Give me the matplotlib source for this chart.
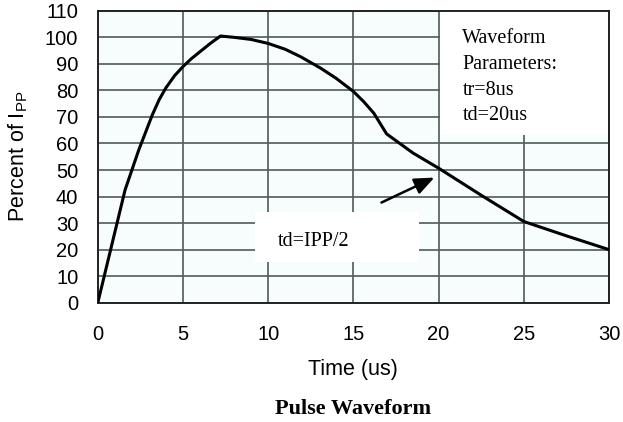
import matplotlib
matplotlib.use("Agg")
import matplotlib.pyplot as plt
from matplotlib.patches import Rectangle

# pulse waveform
time_us = [0, 1.6, 2.4, 3.2, 3.6, 4.0, 4.5, 5.0, 5.5, 6.0, 6.6, 7.2, 8.0, 9.0, 10, 11,
           11.9, 13.1, 14.0, 15.0, 15.6, 16.2, 16.95, 18.5, 20, 22.5, 25, 27.5, 30]
percent_ipp = [0, 42.5, 57.5, 70.8, 76.5, 81, 85.5, 89, 92, 94.6, 97.7, 100.5, 100, 99.2, 97.7, 95.5,
               92.7, 88.3, 84.5, 79.6, 75.8, 71.4, 63.6, 56.4, 50.7, 40.5, 30.6, 25.2, 20]

x_ticks = [0, 5, 10, 15, 20, 25, 30]
y_ticks = [0, 10, 20, 30, 40, 50, 60, 70, 80, 90, 100, 110]
param_lines = ["Waveform", "Parameters:", "tr=8us", "td=20us"]

plt.rcParams['font.family'] = ['Liberation Sans', 'DejaVu Sans']
plt.rcParams['mathtext.fontset'] = 'custom'
plt.rcParams['mathtext.rm'] = 'Liberation Sans'
plt.rcParams['mathtext.default'] = 'regular'
serif = ['Liberation Serif', 'DejaVu Serif']

fig = plt.figure(figsize=(6.23, 4.22), dpi=100)
ax = fig.add_axes([0.157, 0.2827, 0.8205, 0.6917])
ax.set_facecolor('#f7fcfc')

ax.plot(time_us, percent_ipp, color='black', lw=2.2, zorder=3)

ax.set_xlim(0, 30)
ax.set_ylim(0, 110)
ax.set_xticks(x_ticks)
ax.set_yticks(y_ticks)
ax.tick_params(axis='both', length=0, labelsize=14.5)
ax.tick_params(axis='x', pad=16)
ax.tick_params(axis='y', pad=14)
ax.grid(True, color='#4e5c58', lw=1.2)
for s in ax.spines.values():
    s.set_color('#222222')
    s.set_linewidth(1.4)

# white boxes behind the annotations
ax.add_patch(Rectangle((20.08, 63.3), 9.85, 46.7, facecolor='white', edgecolor='none', zorder=2))
ax.add_patch(Rectangle((9.25, 15.3), 9.6, 19.0, facecolor='white', edgecolor='none', zorder=2))

for i, line in enumerate(param_lines):
    ax.text(21.4, 97.7 - i * 9.65, line, family=serif, fontsize=14.5, va='baseline', zorder=4)
ax.text(10.58, 21.4, "td=IPP/2", family=serif, fontsize=14.5, va='baseline', zorder=4)

ax.annotate('', xy=(19.9, 47.6), xytext=(16.5, 37.3), zorder=4,
            arrowprops=dict(arrowstyle='-|>,head_length=0.6,head_width=0.25',
                            color='black', lw=1.8, mutation_scale=20))

ax.set_xlabel("Time (us)", fontsize=15.5, labelpad=11)
ax.set_ylabel(r"Percent of I$_{PP}$", fontsize=15.5)
ax.yaxis.set_label_coords(-0.133, 0.5)

fig.text(0.567, 0.018, "Pulse Waveform", family=serif, fontweight='bold',
         fontsize=16, ha='center', va='baseline')

fig.savefig("out.png", dpi=100)
